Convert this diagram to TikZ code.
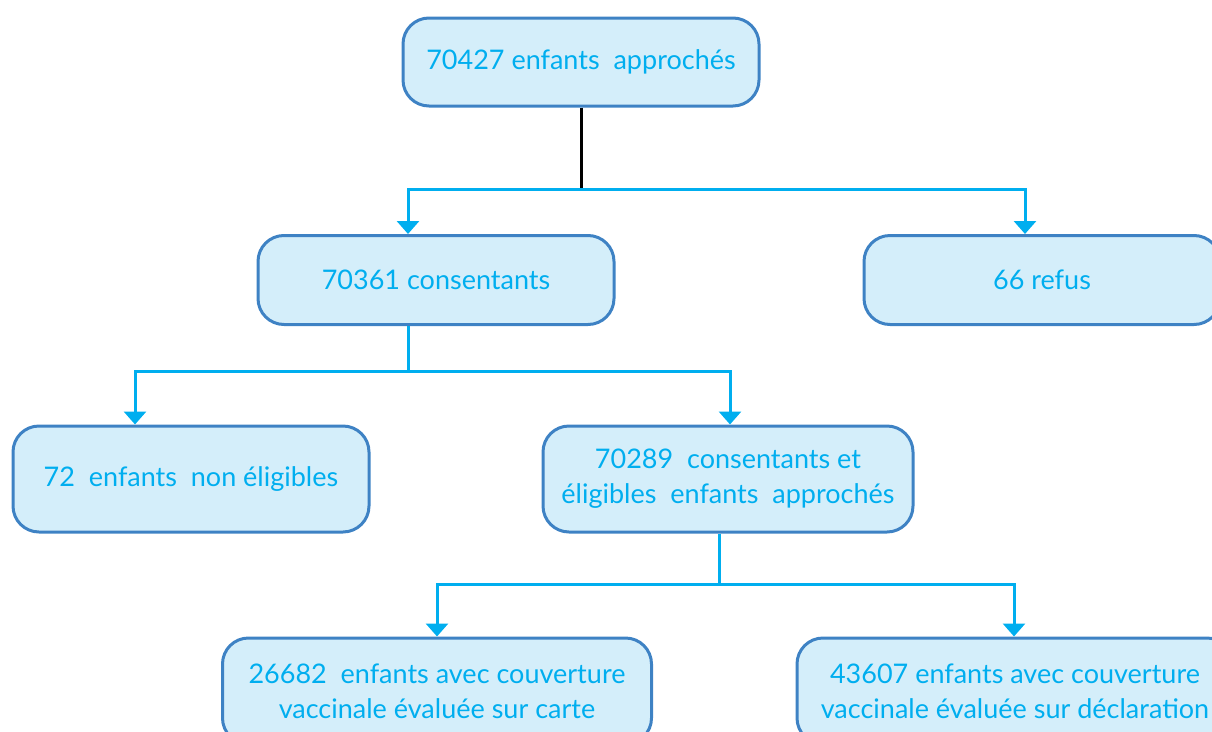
\documentclass[tikz,border=0pt]{standalone}
\usepackage{fontspec}
\setmainfont{Lato}
\usepackage{xcolor}
\usetikzlibrary{arrows.meta}

\definecolor{linecyan}{HTML}{00AEEF}
\definecolor{boxfill}{HTML}{D4EEFA}
\definecolor{boxline}{HTML}{3E82C4}

\tikzset{
  box/.style={draw=boxline, fill=boxfill, line width=3pt, rounded corners=26pt,
    text=linecyan, font=\fontsize{27}{35}\selectfont, align=center, inner sep=0pt},
  tip/.style={Triangle[width=22pt,length=13pt]},
  link/.style={draw=linecyan, line width=3pt, {Triangle[width=22pt,length=13pt]}-{Triangle[width=22pt,length=13pt]}},
}

\begin{document}
\begin{tikzpicture}[x=1pt,y=1pt]
\useasboundingbox (0,0) rectangle (1212,-731);
\clip (0,0) rectangle (1212,-731);

\node[box, minimum width=356, minimum height=88](1) at (581,-62) {70427 enfants\ \ approchés};
\node[box, minimum width=356, minimum height=89](2) at (436,-280) {70361 consentants};
\node[box, minimum width=356, minimum height=89](3) at (1042,-280) {66 refus};
\node[box, minimum width=356, minimum height=106](4) at (191,-479) {72\ \ enfants\ \ non éligibles};
\node[box, minimum width=370, minimum height=106](5) at (728,-479) {70289\ \ consentants et\\ éligibles\ \ enfants\ \ approchés};
\node[box, minimum width=429, minimum height=106](6) at (437,-691) {26682\ \ enfants avec couverture\\ vaccinale évaluée sur carte};
\node[box, minimum width=436, minimum height=106](7) at (1015,-691) {43607 enfants avec couverture\\ vaccinale évaluée sur déclaration};

% level 1
\coordinate (j1) at (581,-189);
\coordinate (l1) at (408,-189);
\coordinate (r1) at (1025,-189);
\draw[line width=3pt] (1.south) -- (j1);
\draw[link] (l1 |- 2.north) -- (l1) -- (r1) -- (r1 |- 3.north);

% level 2
\coordinate (j2) at (408,-371);
\coordinate (l2) at (135,-371);
\coordinate (r2) at (730,-371);
\draw[link, -] (j2 |- 2.south) -- (j2);
\draw[link] (l2 |- 4.north) -- (l2) -- (r2) -- (r2 |- 5.north);

% level 3
\coordinate (j3) at (719,-584);
\coordinate (l3) at (437,-584);
\coordinate (r3) at (1014,-584);
\draw[link, -] (j3 |- 5.south) -- (j3);
\draw[link] (l3 |- 6.north) -- (l3) -- (r3) -- (r3 |- 7.north);
\end{tikzpicture}
\end{document}
